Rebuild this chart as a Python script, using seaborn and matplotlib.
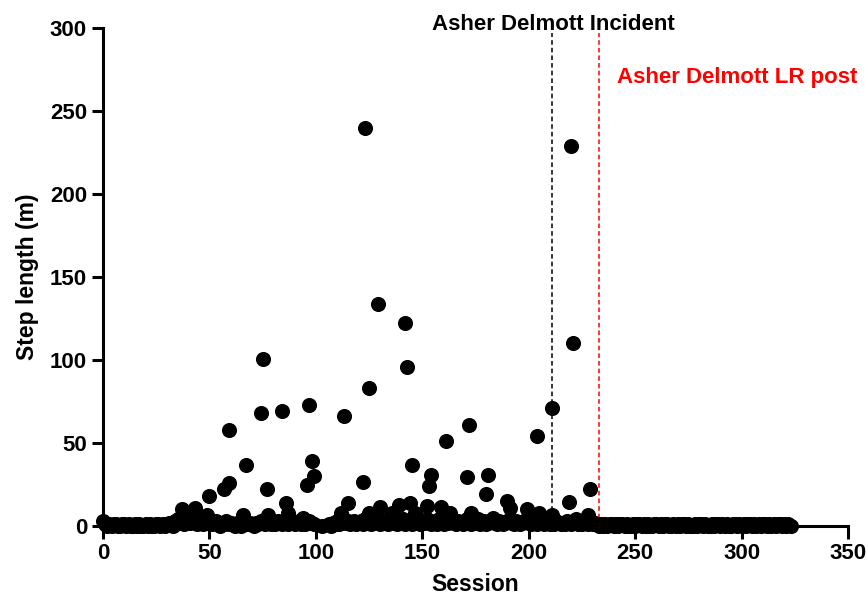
import numpy as np
import pandas as pd
import matplotlib
matplotlib.use("Agg")
import matplotlib.pyplot as plt
import seaborn as sns

nan = np.nan

# Larger steps (session, step length in m)
peak_session = [123, 220, 221, 129, 142, 143, 75, 125, 74, 84, 97, 113, 211, 204, 172, 161,
                59, 67, 98, 99, 96, 77, 59, 57, 50, 37, 43, 49, 66, 77.5, 86, 87, 94, 115, 112,
                145, 154, 153, 122, 171, 181, 180, 229, 219, 130, 139, 144, 152, 159, 173, 190,
                191, 199, 228, 211, 146.5, 136, 125, 163, 183, 205, 222]
peak_length = [240, 229, 110, 134, 122, 96, 100.5, 83, 68, 69, 73, 66.5, 71, 54, 61, 51,
               58, 37, 39, 30, 25, 22, 26, 22, 18, 10, 11, 6.5, 6.5, 6.5, 14, 8, 5, 14, 8,
               37, 31, 24, 26.5, 29.5, 31, 19, 22, 14.5, 11.5, 12.6, 13.8, 12, 11.5, 8, 15,
               11, 10, 6.6, 6.6, 8, 8, 8, 7.8, 5, 8, 4]

# Small steps, one value per session starting at session 0
base_length = [
    3, 1, 0, 1, 0, 1, 1, 0, 0, 1, 1, 0, 1, 0, 0, 1, 0, 1, 0, 0,
    1, 0, 1, 0, 0, 1, 1, 0, 1, 0, 1, 2, 1, 0, 3, 4, 2, 3, 1, 4,
    3, 2, 5, 3, 1, 4, 2, 1, 3, 2, 4, 1, 2, 3, 1, 0, 2, 1, 3, 1,
    2, 1, 0, 2, 1, 0, 3, 2, 1, 2, 1, 0, 2, 1, 3, 2, 1, 2, 3, 1,
    2, 1, 3, 2, 1, 2, 4, 1, 2, 3, 1, 2, 3, 1, 2, 1, 2, 3, 2, 1,
    nan, nan, nan, 0, nan, nan, 1, 0, 2, 1, 3, 1, 2, 4, 2, 3, 1, 2, 3, 1,
    2, 3, 1, 4, 2, 3, 1, 2, 3, 4, 1, 2, 3, 2, 1, 3, 4, 2, 1, 3,
    2, 4, 1, 3, 2, 1, 3, 4, 2, 1, 3, 2, 4, 3, 1, 2, 3, 1, 4, 2,
    1, 3, 2, 4, 3, 2, 1, 3, 2, 1, 3, 4, 2, 1, 3, 2, 4, 1, 2, 3,
    1, 2, 3, 4, 2, 1, 3, 2, 1, 2, 3, 4, 2, 1, 3, 2, 1, 2, 3, 4,
    2, 1, 3, 2, 1, 4, 2, 1, 2, 3, 1, 2, 1, 3, 2, 1, 2, 1, 3, 2,
    1, 2, 3, 1, 2, 1, 2, 3, 1, 2, 1, 2, 1, 0, 1, 0, 1, 0, 1, 1,
    0, 1, 0, 1, 1, 0, 1, 0, 0, 1, 0, 1, 1, 0, 1, 0, 1, 0, 0, 1,
    1, 0, 1, 0, 1, 1, 0, 0, 1, 0, 1, 0, 1, 1, 0, 1, 0, 0, 1, 0,
    1, 1, 0, 1, 0, 0, 1, 0, 1, 1, 0, 1, 0, 1, 0, 0, 1, 1, 0, 1,
    0, 1, 0, 1, 1, 0, 1, 0, 1, 0, 1, 1, 0, 1, 0, 1, 0, 1, 1, 0,
    1, 0, 1, 0,
]

incident_session = 211
lr_post_session = 233
x_ticks = [0, 50, 100, 150, 200, 250, 300, 350]
y_ticks = [0, 50, 100, 150, 200, 250, 300]

df = pd.DataFrame({
    "Session": list(np.arange(len(base_length))) + peak_session,
    "Step": base_length + peak_length,
}).dropna()

sns.set_style("ticks")
plt.rcParams["font.family"] = ["Liberation Sans", "DejaVu Sans"]
plt.rcParams["font.weight"] = "bold"
plt.rcParams["text.color"] = "black"
plt.rcParams["axes.labelcolor"] = "black"

fig = plt.figure(figsize=(8.68, 6.02), dpi=100)
ax = fig.add_axes([103 / 868, 76 / 602, 745 / 868, 498 / 602])

sns.scatterplot(data=df, x="Session", y="Step", ax=ax, color="black", s=118,
                linewidth=0, clip_on=False, zorder=3)

ax.axvline(incident_session, ymin=0, ymax=0.99, color="black", lw=1.1,
           linestyle=(0, (3, 2)), zorder=2)
ax.axvline(lr_post_session, ymin=0, ymax=0.99, color="red", lw=1.1,
           linestyle=(0, (3, 2)), zorder=2)

ax.text(211.8, 302, "Asher Delmott Incident", ha="center", va="center",
        fontsize=16, fontweight="bold", color="black", clip_on=False)
ax.text(241.4, 270, "Asher Delmott LR post", ha="left", va="center",
        fontsize=16, fontweight="bold", color="red", clip_on=False)

ax.set_xlim(0, 350)
ax.set_ylim(0, 300)
ax.set_xticks(x_ticks)
ax.set_yticks(y_ticks)
ax.set_xticklabels([str(t) for t in x_ticks], fontsize=16, fontweight="bold", color="black")
ax.set_yticklabels([str(t) for t in y_ticks], fontsize=16, fontweight="bold", color="black")
ax.set_xlabel("Session", fontsize=16.5, fontweight="bold", labelpad=6, color="black")
ax.set_ylabel("Step length (m)", fontsize=16.5, fontweight="bold", labelpad=8, color="black")

sns.despine(ax=ax)
for side in ["left", "bottom"]:
    ax.spines[side].set_linewidth(2.2)
    ax.spines[side].set_color("black")
ax.tick_params(axis="both", width=2.2, length=8, colors="black", direction="out")
ax.tick_params(axis="x", length=9)

fig.savefig("out.png", dpi=100)
